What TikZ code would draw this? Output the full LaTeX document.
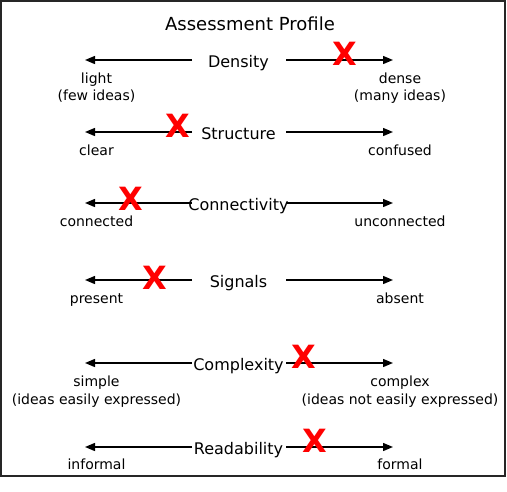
\documentclass[tikz,border=0pt]{standalone}
\usepackage{fontspec}
\setmainfont{DejaVu Sans}
\usetikzlibrary{arrows.meta}

\begin{document}
\begin{tikzpicture}[
    x=1pt, y=-1pt,
    scalename/.style={inner sep=0pt, anchor=base, font=\fontsize{16}{19}\selectfont},
    pole/.style={inner sep=0pt, anchor=base, align=center, font=\fontsize{14}{17.5}\selectfont},
    pointer/.style={line width=1.4pt, -{Triangle[length=10pt, width=8pt]}},
    redx/.style={inner sep=0pt, text=red, font=\fontsize{32}{32}\selectfont\bfseries}
]
    \useasboundingbox (0,0) rectangle (507,491);

    % --- 0. Frame and Title ---
    \draw[line width=2pt, black!85] (1,1) rectangle (505,476);
    \node[inner sep=0pt, anchor=base, font=\fontsize{18}{22}\selectfont] (title) at (250,30) {Assessment Profile};

    % --- 1. Density ---
    \begin{scope}[shift={(0,60)}]
        \coordinate (dens_a) at (192,0);
        \coordinate (dens_b) at (286,0);
        \coordinate (dens_l) at (85,0);
        \coordinate (dens_r) at (393,0);
        \draw[pointer] (dens_a) -- (dens_l);
        \draw[pointer] (dens_b) -- (dens_r);
        \node[scalename] (density) at (238.5,7) {Density};
        % base of a two-line node is its last line
        \node[pole] (light) at (96.5,40.5) {light\\(few ideas)};
        \node[pole] (dense) at (400,40.5) {dense\\(many ideas)};
        \node[redx] (dens_x) at (344.5,-6) {X};
    \end{scope}

    % --- 2. Structure ---
    \begin{scope}[shift={(0,132)}]
        \coordinate (struc_a) at (192,0);
        \coordinate (struc_b) at (286,0);
        \coordinate (struc_l) at (85,0);
        \coordinate (struc_r) at (393,0);
        \draw[pointer] (struc_a) -- (struc_l);
        \draw[pointer] (struc_b) -- (struc_r);
        \node[scalename] (structure) at (238.5,7) {Structure};
        \node[pole] (clear) at (96.5,23) {clear};
        \node[pole] (confused) at (400,23) {confused};
        \node[redx] (struc_x) at (178,-6) {X};
    \end{scope}

    % --- 3. Connectivity ---
    \begin{scope}[shift={(0,203)}]
        \coordinate (conn_a) at (192,0);
        \coordinate (conn_b) at (286,0);
        \coordinate (conn_l) at (85,0);
        \coordinate (conn_r) at (393,0);
        \draw[pointer] (conn_a) -- (conn_l);
        \draw[pointer] (conn_b) -- (conn_r);
        \node[scalename] (connectivity) at (238.5,7) {Connectivity};
        \node[pole] (connected) at (96.5,23) {connected};
        \node[pole] (unconnected) at (400,23) {unconnected};
        \node[redx] (conn_x) at (131,-4) {X};
    \end{scope}

    % --- 4. Signals ---
    \begin{scope}[shift={(0,280)}]
        \coordinate (sig_a) at (192,0);
        \coordinate (sig_b) at (286,0);
        \coordinate (sig_l) at (85,0);
        \coordinate (sig_r) at (393,0);
        \draw[pointer] (sig_a) -- (sig_l);
        \draw[pointer] (sig_b) -- (sig_r);
        \node[scalename] (signals) at (238.5,7) {Signals};
        \node[pole] (present) at (96.5,23) {present};
        \node[pole] (absent) at (400,23) {absent};
        \node[redx] (sig_x) at (154.5,-2) {X};
    \end{scope}

    % --- 5. Complexity ---
    \begin{scope}[shift={(0,363)}]
        \coordinate (cplx_a) at (192,0);
        \coordinate (cplx_b) at (286,0);
        \coordinate (cplx_l) at (85,0);
        \coordinate (cplx_r) at (393,0);
        \draw[pointer] (cplx_a) -- (cplx_l);
        \draw[pointer] (cplx_b) -- (cplx_r);
        \node[scalename] (complexity) at (238.5,7) {Complexity};
        \node[pole] (simple) at (96.5,41) {simple\\(ideas easily expressed)};
        \node[pole] (complex) at (400,41) {complex\\(ideas not easily expressed)};
        \node[redx] (cplx_x) at (304,-6) {X};
    \end{scope}

    % --- 6. Readability ---
    \begin{scope}[shift={(0,447)}]
        \coordinate (read_a) at (192,0);
        \coordinate (read_b) at (286,0);
        \coordinate (read_l) at (85,0);
        \coordinate (read_r) at (393,0);
        \draw[pointer] (read_a) -- (read_l);
        \draw[pointer] (read_b) -- (read_r);
        \node[scalename] (readability) at (238.5,7) {Readability};
        \node[pole] (informal) at (96.5,22) {informal};
        \node[pole] (formal) at (400,22) {formal};
        \node[redx] (read_x) at (315,-6) {X};
    \end{scope}

\end{tikzpicture}
\end{document}
